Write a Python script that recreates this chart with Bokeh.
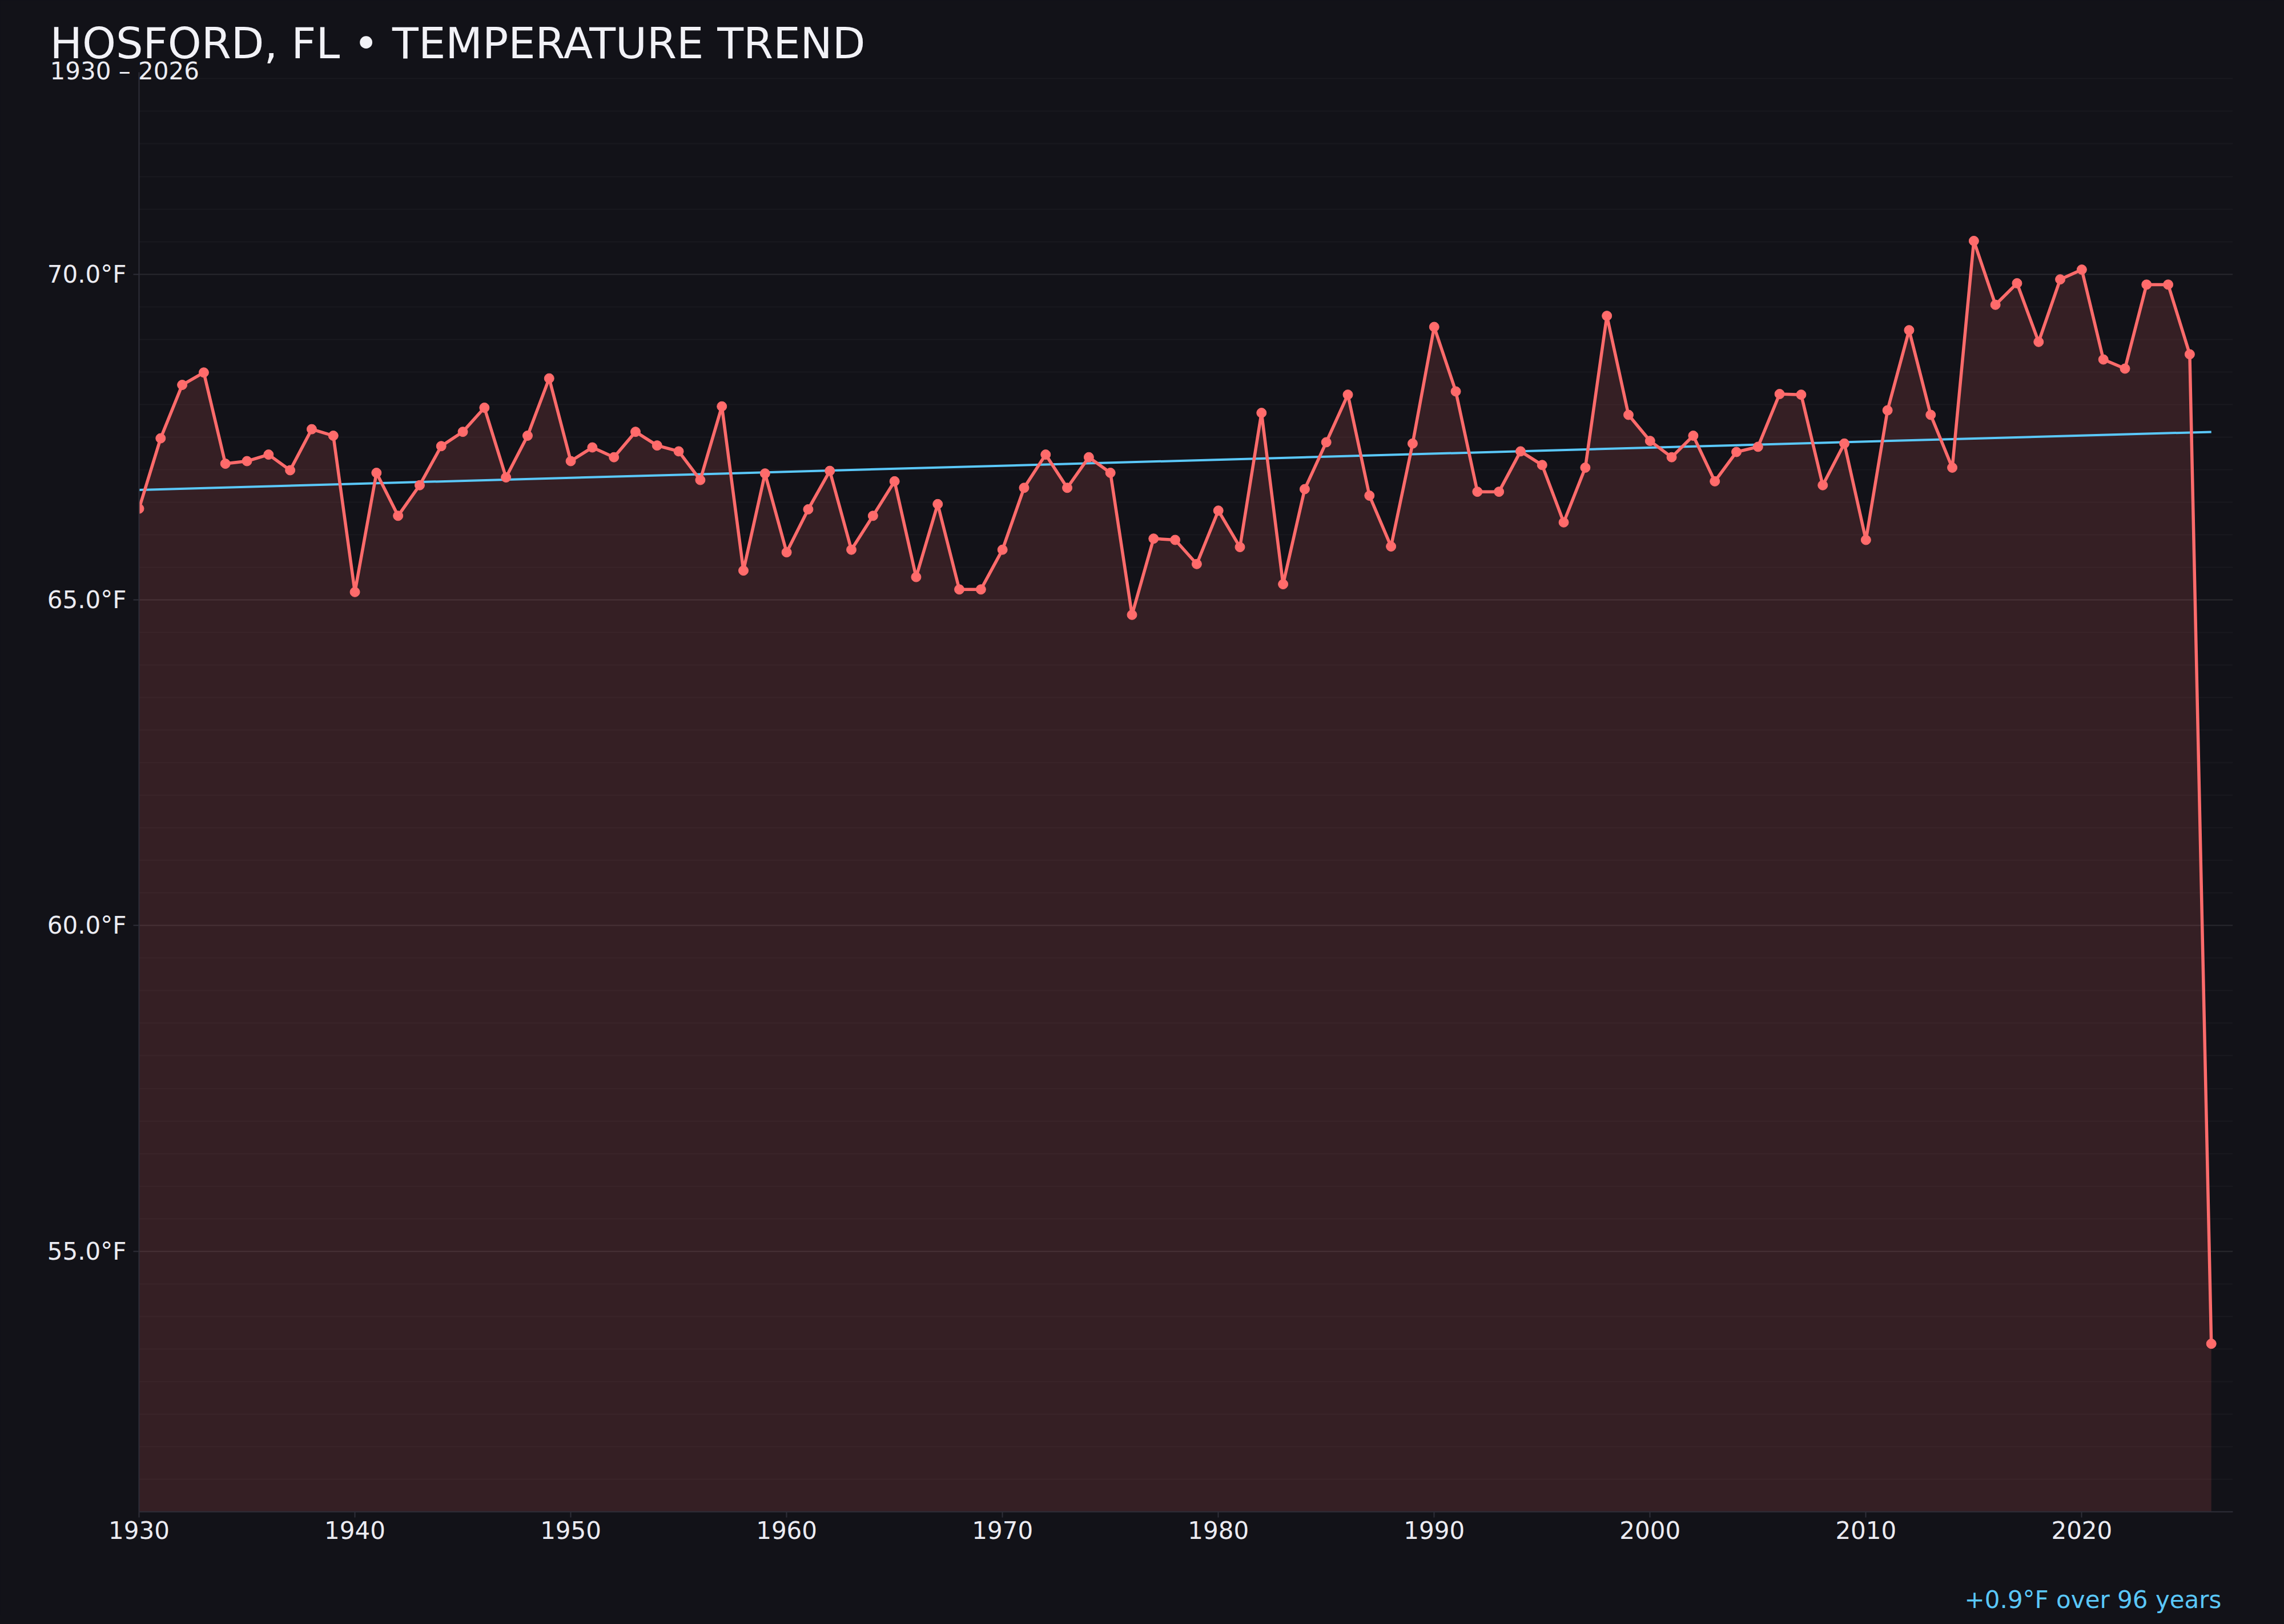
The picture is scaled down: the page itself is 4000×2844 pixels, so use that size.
import numpy as np
from bokeh.plotting import figure
from bokeh.models import (Range1d, SingleIntervalTicker, PrintfTickFormatter, Title, Label,
                          GlobalInlineStyleSheet)
from bokeh.embed import file_html
from bokeh.resources import INLINE

years = list(range(1930, 2027))
temps = [
    66.40, 67.48, 68.30, 68.49, 67.09, 67.13, 67.23, 66.99, 67.62, 67.52,  # 1930s
    65.12, 66.95, 66.29, 66.76, 67.36, 67.58, 67.95, 66.88, 67.52, 68.40,  # 1940s
    67.13, 67.34, 67.19, 67.58, 67.37, 67.28, 66.84, 67.97, 65.45, 66.94,  # 1950s
    65.73, 66.39, 66.98, 65.77, 66.29, 66.82, 65.35, 66.47, 65.16, 65.16,  # 1960s
    65.77, 66.72, 67.23, 66.72, 67.19, 66.95, 64.77, 65.94, 65.92, 65.55,  # 1970s
    66.37, 65.81, 67.87, 65.24, 66.70, 67.42, 68.15, 66.60, 65.82, 67.40,  # 1980s
    69.19, 68.20, 66.66, 66.66, 67.28, 67.07, 66.19, 67.03, 69.36, 67.84,  # 1990s
    67.44, 67.19, 67.52, 66.82, 67.27, 67.35, 68.16, 68.15, 66.76, 67.40,  # 2000s
    65.92, 67.91, 69.14, 67.84, 67.03, 70.51, 69.53, 69.86, 68.96, 69.92,  # 2010s
    70.07, 68.69, 68.55, 69.84, 69.84, 68.77, 53.58,                       # 2020s
]
title_text = "HOSFORD, FL \u2022 TEMPERATURE TREND"
subtitle_text = "1930 \u2013 2026"
trend_text = "+0.9\u00b0F over 96 years"

BG = "#121218"
RED = "#ff6b6b"
BLUE = "#5ac8fa"
FONT = "DejaVu Sans"

y_lo, y_hi = 51.0, 73.1

# linear trend through all years
slope, intercept = np.polyfit(years, temps, 1)
trend_x = [years[0], years[-1]]
trend_y = [slope * x + intercept for x in trend_x]

p = figure(width=3984, height=2828, output_backend="svg", toolbar_location=None,
           title=title_text,
           x_range=Range1d(1930, 2027), y_range=Range1d(y_lo, y_hi),
           min_border_left=243, min_border_right=74,
           min_border_top=126, min_border_bottom=181)
p.background_fill_color = BG
p.border_fill_color = BG
p.outline_line_color = None
p.stylesheets = [GlobalInlineStyleSheet(css="html, body { background-color: #121218; }")]

p.title.align = "left"
p.title.offset = -156
p.title.standoff = 0
p.title.text_font = FONT
p.title.text_font_size = "75px"
p.title.text_font_style = "normal"
p.title.text_color = "#f2f2f7"

p.add_layout(Title(text=subtitle_text, align="left", offset=-156, standoff=-44,
                   text_font=FONT, text_font_size="42px", text_font_style="normal",
                   text_color="#ececf2"), "above")
p.add_layout(Label(x=3647, y=-55, x_units="screen", y_units="screen", text=trend_text,
                   text_font=FONT, text_font_size="42px", text_color=BLUE,
                   text_align="right", text_baseline="alphabetic"), "below")

p.varea(x=years, y1=[y_lo] * len(years), y2=temps, fill_color=RED, fill_alpha=0.15)
p.line(trend_x, trend_y, line_color=BLUE, line_width=4)
p.line(years, temps, line_color=RED, line_width=5.5)
p.scatter(years, temps, size=17, fill_color=RED, line_color=RED, line_width=1)

p.xaxis.ticker = SingleIntervalTicker(interval=10, num_minor_ticks=0)
p.yaxis.ticker = SingleIntervalTicker(interval=5, num_minor_ticks=10)
p.yaxis.formatter = PrintfTickFormatter(format="%.1f\u00b0F")

for ax in (p.xaxis, p.yaxis):
    ax.axis_line_color = "#2e2e38"
    ax.axis_line_width = 2
    ax.major_tick_line_color = "#2e2e38"
    ax.major_tick_line_width = 2
    ax.major_tick_in = 0
    ax.major_tick_out = 10
    ax.minor_tick_line_color = None
    ax.major_label_text_color = "#ececf2"
    ax.major_label_text_font = FONT
    ax.major_label_text_font_size = "42px"
p.xaxis.major_label_standoff = 6
p.yaxis.major_label_standoff = 12

p.xgrid.grid_line_color = None
p.ygrid.grid_line_color = "#ffffff"
p.ygrid.grid_line_alpha = 0.07
p.ygrid.grid_line_width = 2
p.ygrid.minor_grid_line_color = "#ffffff"
p.ygrid.minor_grid_line_alpha = 0.03
p.ygrid.minor_grid_line_width = 2

open("out.html", "w").write(file_html(p, INLINE))
